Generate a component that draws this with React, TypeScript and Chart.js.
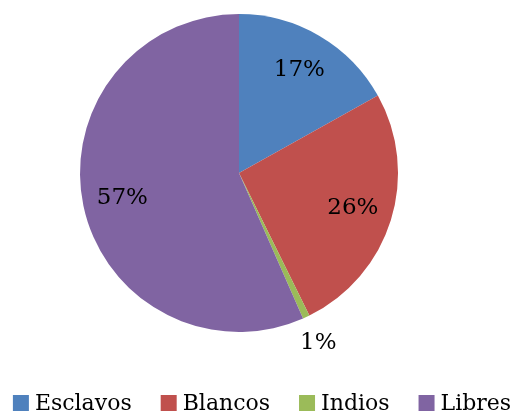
import React, { useEffect, useRef } from "react";
import { Chart, registerables } from "chart.js";

Chart.register(...registerables);

const categories = ["Esclavos", "Blancos", "Indios", "Libres"];
const values = [16.9, 25.8, 0.7, 56.6];
const colors = ["#4F81BD", "#C0504D", "#9BBB59", "#8064A2"];
const FONT = "'DejaVu Serif', serif";

const labelPlugin = {
  id: "pctLabels",
  afterDatasetsDraw(chart: any) {
    const ctx = chart.ctx;
    const meta = chart.getDatasetMeta(0);
    const data = chart.data.datasets[0].data as number[];
    const total = data.reduce((a, b) => a + b, 0);
    ctx.save();
    ctx.font = `23px ${FONT}`;
    ctx.fillStyle = "#000";
    ctx.textAlign = "center";
    ctx.textBaseline = "middle";
    meta.data.forEach((arc: any, i: number) => {
      const p = arc.getProps(["startAngle", "endAngle", "outerRadius", "x", "y"], true);
      const mid = (p.startAngle + p.endAngle) / 2;
      const pct = (data[i] / total) * 100;
      const r = pct < 3 ? p.outerRadius * 1.18 : p.outerRadius * 0.75;
      const x = p.x + Math.cos(mid) * r;
      const y = p.y + Math.sin(mid) * r;
      ctx.fillText(`${Math.round(pct)}%`, x, y);
    });
    ctx.restore();
  },
};

const legendPlugin = {
  id: "customLegend",
  afterDraw(chart: any) {
    const ctx = chart.ctx;
    const labels = chart.data.labels as string[];
    const bg = chart.data.datasets[0].backgroundColor as string[];
    const box = 16;
    const boxGap = 6;
    const itemGap = 29;
    ctx.save();
    ctx.font = `22px ${FONT}`;
    ctx.textBaseline = "alphabetic";
    ctx.textAlign = "left";
    const widths = labels.map((l) => ctx.measureText(l).width);
    const total =
      widths.reduce((a, w) => a + box + boxGap + w, 0) + itemGap * (labels.length - 1);
    let x = (chart.width - total) / 2 + 2;
    const baseline = 410;
    labels.forEach((l, i) => {
      ctx.fillStyle = bg[i];
      ctx.fillRect(x, baseline - 15, box, box);
      x += box + boxGap;
      ctx.fillStyle = "#000";
      ctx.fillText(l, x, baseline);
      x += widths[i] + itemGap;
    });
    ctx.restore();
  },
};

export default function App() {
  const ref = useRef<HTMLCanvasElement>(null);
  useEffect(() => {
    if (!ref.current) return;
    const chart = new Chart(ref.current, {
      type: "pie",
      data: {
        labels: categories,
        datasets: [
          {
            data: values,
            backgroundColor: colors,
            borderWidth: 0,
          },
        ],
      },
      options: {
        animation: false,
        responsive: false,
        maintainAspectRatio: false,
        devicePixelRatio: 1,
        layout: { padding: { top: 14, bottom: 82, left: 0, right: 42 } },
        plugins: {
          legend: { display: false },
          tooltip: { enabled: false },
        },
      },
      plugins: [labelPlugin, legendPlugin],
    });
    return () => chart.destroy();
  }, []);
  return (
    <div style={{ position: "fixed", left: 0, top: 0, width: 520, height: 414, background: "#fff" }}>
      <canvas ref={ref} width={520} height={414} style={{ width: 520, height: 414, display: "block" }} />
    </div>
  );
}
